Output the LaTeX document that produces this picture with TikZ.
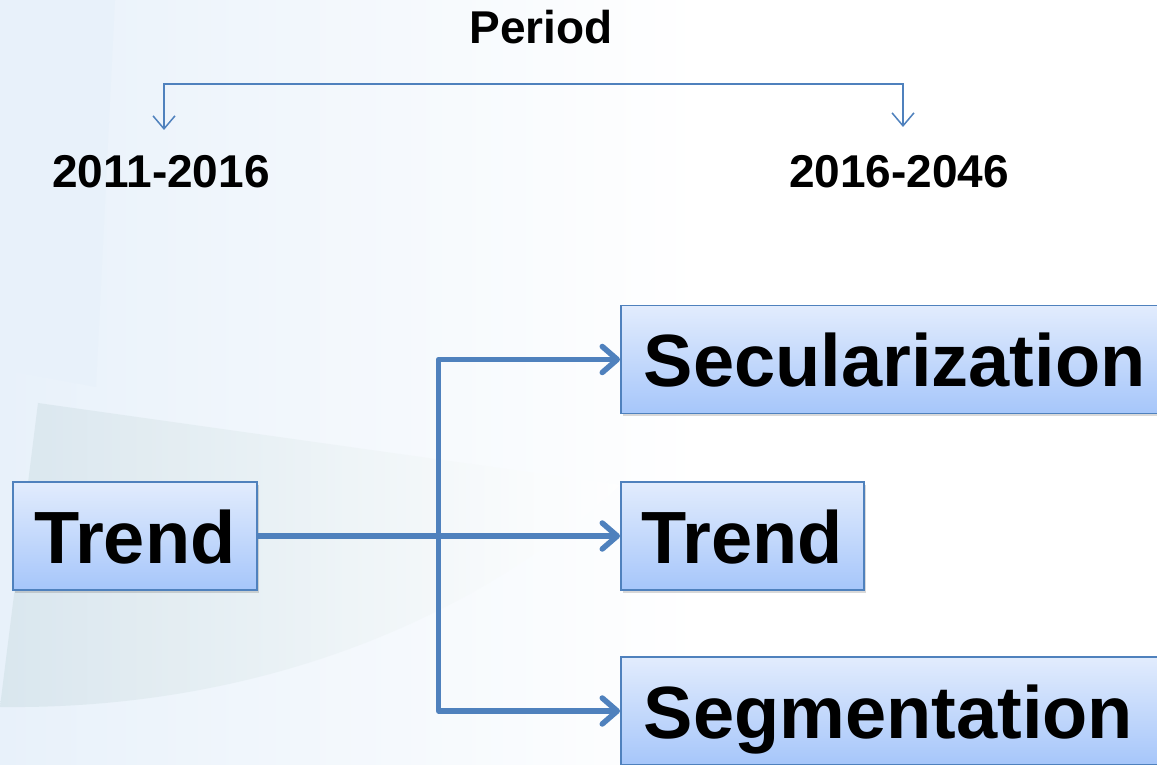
\documentclass[tikz,border=0pt]{standalone}
\usepackage{fontspec}
\setmainfont{Liberation Sans}
\usetikzlibrary{arrows.meta,shadows,calc}
\definecolor{lineblue}{RGB}{79,129,189}
\definecolor{boxtop}{RGB}{226,236,253}
\definecolor{boxbot}{RGB}{166,198,250}
\definecolor{bgblue}{RGB}{232,241,250}
\definecolor{bgpatch}{RGB}{216,230,237}
\tikzset{
  box/.style={draw=lineblue, line width=1.6pt, top color=boxtop, bottom color=boxbot,
    drop shadow={shadow xshift=2pt, shadow yshift=-3pt, opacity=0.3},
    font=\fontsize{74}{80}\selectfont\bfseries, text height=55pt, text depth=0pt,
    minimum height=108pt, inner xsep=20pt, anchor=west},
  widebox/.style={box, inner xsep=23pt, text width=520pt, align=left},
  periodlabel/.style={font=\fontsize{46}{50}\selectfont\bfseries, anchor=base, inner sep=0pt},
  bigarrow/.style={draw=lineblue, line width=5.5pt, line join=round,
    -{Straight Barb[length=15pt,width=26pt,round]}},
  thinarrow/.style={draw=lineblue, line width=1.5pt,
    {Straight Barb[length=13pt,width=22pt]}-{Straight Barb[length=13pt,width=22pt]}}
}
\begin{document}
\begin{tikzpicture}[x=1pt,y=1pt]
\useasboundingbox (0,0) rectangle (1157,765);
\clip (0,0) rectangle (1157,765);
% background
\shade[left color=bgblue, right color=white] (0,0) rectangle (700,765);
\fill[bgblue] (0,765) -- (115,765) -- (96,378) -- (0,396) -- cycle;
\shade[left color=bgpatch, right color=white, opacity=0.9]
  (38,362) -- (620,280) .. controls (470,140) and (250,55) .. (0,58) -- cycle;

% labels
\node[periodlabel] (period) at (541,721) {Period};
\node[periodlabel] (p1) at (161,577) {2011-2016};
\node[periodlabel] (p2) at (899,577) {2016-2046};
\coordinate (a1) at (164,635);
\coordinate (b1) at (164,681);
\coordinate (b2) at (903,681);
\coordinate (a2) at (903,638);
\draw[thinarrow] (a1) -- (b1) -- (b2) -- (a2);

% boxes
\node[box, minimum width=244pt] (t1) at (12,229) {Trend};
\node[widebox] (sec) at (620,405.5) {Secularization};
\node[box, minimum width=243pt] (t2) at (620,229) {Trend};
\node[widebox] (seg) at (620,54) {Segmentation};

% connectors
\coordinate (j) at ($(t1.east)+(181,0)$);
\draw[bigarrow] (t1.east) -- (j) |- (sec.west);
\draw[bigarrow] (j) |- (seg.west);
\draw[bigarrow] (t1.east) -- (t2.west);
\end{tikzpicture}
\end{document}
